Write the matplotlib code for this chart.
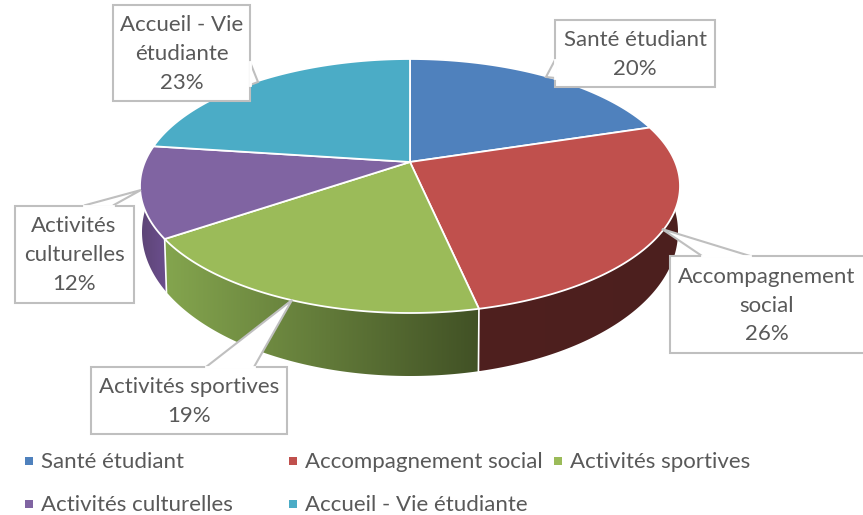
"""
3D looking pie chart: share of student services.
"""

import matplotlib
matplotlib.use("Agg")
import matplotlib.pyplot as plt
from matplotlib.colors import LinearSegmentedColormap
from matplotlib.patches import Polygon
import numpy as np

categories = ["Santé étudiant", "Accompagnement social", "Activités sportives",
              "Activités culturelles", "Accueil - Vie étudiante"]
values = [20.2, 26.4, 18.9, 11.6, 22.9]
label_lines = ["Santé étudiant", "Accompagnement\nsocial", "Activités sportives",
               "Activités\nculturelles", "Accueil - Vie\nétudiante"]

top_colors = ["#4F81BD", "#C0504D", "#9BBB59", "#8064A2", "#4BACC6"]
wall_colors = [("#2A4562", "#2A4562"), ("#4F201F", "#4C1F1E"), ("#84A54E", "#415125"),
               ("#5C4475", "#6C4F8E"), ("#28606F", "#28606F")]

EDGE = "#BFBFBF"
TEXT = "#595959"
FONT = "Lato"

# ellipse geometry in pixels, k moves the apex off the ellipse centre (perspective)
CX, TOP_CY, TOP_RX, TOP_RY = 410, 186, 270, 127
BOT_CY, BOT_RX, BOT_RY = 232, 268, 144
K = 0.189

# label boxes: left, top, right, bottom, then the pointer polygon points
boxes = [
    (555, 20, 715, 87, [(555, 60), (546, 77), (555, 78)]),
    (670, 256, 875, 353, [(702, 256), (662, 229), (750, 256)]),
    (91, 367, 287, 434, [(206, 367), (292, 300), (254, 367)]),
    (14.5, 205.5, 133.5, 302.5, [(84, 205.5), (141, 190), (113, 205.5)]),
    (113, 5, 250, 101, [(250, 62), (258, 82), (250, 85)]),
]

legend_pos = [(29, 461), (293, 461), (558, 461), (29, 504), (293, 504)]


def ellipse_points(theta, cy, rx, ry):
    """theta is clockwise from the top, mapped so the pie centre sits at the apex."""
    denom = 1 + K * np.cos(theta)
    x = np.sin(theta) * np.sqrt(1 - K ** 2) / denom
    y = (np.cos(theta) + K) / denom
    return CX + rx * x, cy - ry * y


fig = plt.figure(figsize=(8.63, 5.15), dpi=100)
ax = fig.add_axes([0, 0, 1, 1])

edges = np.cumsum([0] + values) / sum(values) * 2 * np.pi
apex = (CX, TOP_CY - TOP_RY * K)

# side walls first, back slices get covered by the top face
for i in range(len(values)):
    theta = np.linspace(edges[i], edges[i + 1], 200)
    tx, ty = ellipse_points(theta, TOP_CY, TOP_RX, TOP_RY)
    bx, by = ellipse_points(theta, BOT_CY, BOT_RX, BOT_RY)
    pts = np.column_stack([np.r_[tx, bx[::-1]], np.r_[ty, by[::-1]]])
    poly = Polygon(pts, closed=True, facecolor="none", edgecolor="none", zorder=1.2)
    ax.add_patch(poly)
    cmap = LinearSegmentedColormap.from_list("wall", wall_colors[i])
    im = ax.imshow(np.linspace(0, 1, 256).reshape(1, -1), cmap=cmap, aspect="auto", zorder=1,
                   extent=(pts[:, 0].min(), pts[:, 0].max(), pts[:, 1].max(), pts[:, 1].min()))
    im.set_clip_path(poly)
    # white seam between the walls
    ax.plot([tx[0], bx[0]], [ty[0], by[0]], color="white", linewidth=1.2, zorder=1.3)

# top face
for i in range(len(values)):
    theta = np.linspace(edges[i], edges[i + 1], 200)
    tx, ty = ellipse_points(theta, TOP_CY, TOP_RX, TOP_RY)
    pts = np.vstack([apex, np.column_stack([tx, ty])])
    ax.add_patch(Polygon(pts, closed=True, facecolor=top_colors[i], edgecolor="white",
                         linewidth=1.3, joinstyle="round", zorder=2))

# callout labels
for i, (left, top, right, bottom, pointer) in enumerate(boxes):
    rect = [(left, top), (right, top), (right, bottom), (left, bottom)]
    ax.add_patch(Polygon(rect, closed=True, facecolor="white", edgecolor=EDGE, linewidth=1.5, zorder=3))
    ax.add_patch(Polygon(pointer, closed=False, facecolor="white", edgecolor=EDGE, linewidth=1.5, zorder=3))
    # hide the box border under the pointer opening
    ax.plot([pointer[0][0], pointer[2][0]], [pointer[0][1], pointer[2][1]],
            color="white", linewidth=2, zorder=3.1)
    text = f"{label_lines[i]}\n{values[i]:.0f}%"
    ax.text((left + min(right, 863)) / 2, (top + bottom) / 2 + 1, text, ha="center", va="center",
            fontsize=16, color=TEXT, family=FONT, linespacing=1.55, zorder=4)

# legend
for i, (x, y) in enumerate(legend_pos):
    ax.scatter([x], [y], marker="s", s=33, color=top_colors[i], linewidths=0, zorder=3)
    ax.text(x + 12, y + 1, categories[i], ha="left", va="center", fontsize=16, color=TEXT, family=FONT)

ax.set_xlim(0, 863)
ax.set_ylim(515, 0)
ax.axis("off")

fig.savefig("out.png", dpi=100, facecolor="white")
plt.close(fig)
